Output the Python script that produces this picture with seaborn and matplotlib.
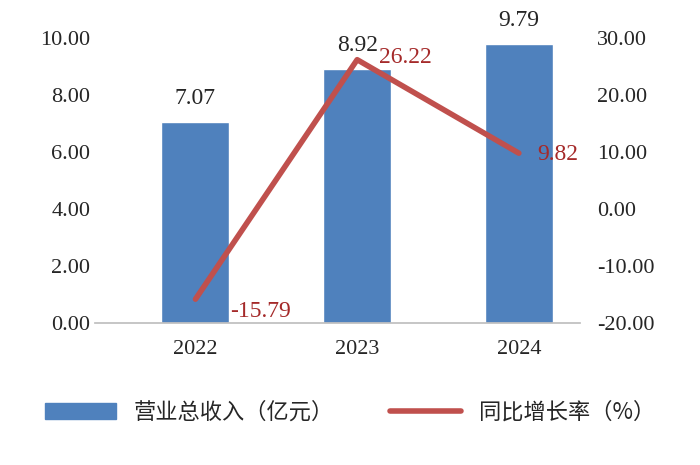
import matplotlib
matplotlib.use("Agg")
import matplotlib.pyplot as plt
import seaborn as sns
import pandas as pd
from matplotlib.patches import Patch
from matplotlib.lines import Line2D

years = ["2022", "2023", "2024"]
revenue = [7.07, 8.92, 9.79]
growth = [-15.79, 26.22, 9.82]
left_ticks = [0, 2, 4, 6, 8, 10]
right_ticks = [-20, -10, 0, 10, 20, 30]

sns.set_theme(style="white")
plt.rcParams['font.family'] = ['Liberation Serif', 'Noto Sans CJK SC']

fig = plt.figure(figsize=(7, 4.65), dpi=100)
ax = fig.add_axes([0.136, 0.305, 0.693, 0.613])
df = pd.DataFrame({"year": years, "rev": revenue})
sns.barplot(data=df, x="year", y="rev", color="#4F81BD", saturation=1, width=0.42, ax=ax)
ax.set_xlim(-0.62, 2.38)
ax.set_ylim(0, 10)
ax.set_yticks(left_ticks)
ax.set_yticklabels([f"{v:.2f}" for v in left_ticks], fontsize=16)
ax.set_xlabel(""); ax.set_ylabel("")
ax.tick_params(axis='x', labelsize=16, length=0, pad=12)
ax.tick_params(axis='y', length=0)
for s in ["top", "right", "left"]:
    ax.spines[s].set_visible(False)
ax.spines["bottom"].set_color("#BFBFBF")
for i, v in enumerate(revenue):
    ax.text(i, v + 0.45, f"{v:.2f}", ha="center", va="bottom", fontsize=17)

ax2 = ax.twinx()
ax2.set_xlim(-0.62, 2.38)
ax2.plot(range(len(years)), growth, color="#C0504D", lw=4)
ax2.set_ylim(-20, 30)
ax2.set_yticks(right_ticks)
ax2.set_yticklabels([f"{v:.2f}" for v in right_ticks], fontsize=16)
ax2.tick_params(axis='y', length=0, pad=12)
for s in ["top", "right", "left", "bottom"]:
    ax2.spines[s].set_visible(False)
ax2.grid(False); ax.grid(False)
offs = [(0.4, -2.2), (0.3, 0.3), (0.24, -0.3)]
for i, v in enumerate(growth):
    ax2.text(i + offs[i][0], v + offs[i][1], f"{v:.2f}", ha="center", va="center",
             fontsize=17, color="#A52A2A")

handles = [Patch(color="#4F81BD"), Line2D([], [], color="#C0504D", lw=4)]
fig.legend(handles, ["营业总收入（亿元）", "同比增长率（%）"], loc="center",
           bbox_to_anchor=(0.5, 0.113), ncol=2, frameon=False, handlelength=3.2,
           columnspacing=2.5, prop={'family': ['Noto Sans CJK SC'], 'size': 16})
fig.savefig("out.png", dpi=100)
